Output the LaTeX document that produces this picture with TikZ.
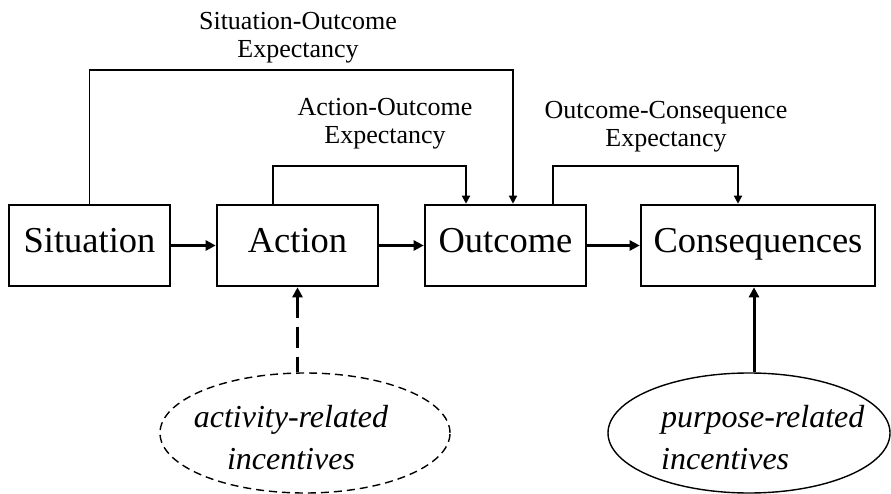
\documentclass[tikz,border=0pt]{standalone}
\usepackage{fontspec}
\setmainfont{Liberation Serif}
\usetikzlibrary{arrows.meta,shapes.geometric}
\begin{document}
\begin{tikzpicture}[x=1pt,y=-1pt,
  stage/.style={draw,line width=2.6pt,minimum height=81pt,inner sep=0pt,
    font=\fontsize{36.5}{40}\selectfont,text height=25.5pt,text depth=10.5pt},
  flow/.style={line width=3pt,-{Triangle[length=10pt,width=10pt]}},
  flowrev/.style={line width=3pt,{Triangle[length=10pt,width=10pt]}-},
  link/.style={line width=1.4pt,-{Triangle[length=8pt,width=8pt]}},
  lbl/.style={inner sep=0pt,align=center,font=\fontsize{26}{28}\selectfont},
  inc/.style={inner sep=0pt,font=\itshape\fontsize{32}{42}\selectfont},
  incring/.style={ellipse,draw,line width=1.4pt,inner sep=0pt}
]
\useasboundingbox (0,0) rectangle (891,494);

% the four stages
\node[stage,minimum width=161pt] (sit) at (89.5,245.5) {Situation};
\node[stage,minimum width=161pt] (act) at (297.5,245.5) {Action};
\node[stage,minimum width=161pt] (out) at (505.5,245.5) {Outcome};
\node[stage,minimum width=234pt] (con) at (758,245.5) {Consequences};

% main sequence
\draw[flow] (sit.east) -- (act.west);
\draw[flow] (act.east) -- (out.west);
\draw[flow] (out.east) -- (con.west);

% expectancy links
\coordinate (soTop) at (0,70);
\coordinate (aoTop) at (0,166);
\draw[link] (sit.north) |- ([xshift=7.5pt]out.north |- soTop) -- ([xshift=7.5pt]out.north);
\draw[link] ([xshift=-24.5pt]act.north) |- ([xshift=-39.5pt]out.north |- aoTop) -- ([xshift=-39.5pt]out.north);
\draw[link] ([xshift=47.5pt]out.north) |- ([xshift=-20pt]con.north |- aoTop) -- ([xshift=-20pt]con.north);

\node[lbl,anchor=north] (soLab) at (298,12) {Situation-Outcome\\Expectancy};
\node[lbl,anchor=north] (aoLab) at (385,98) {Action-Outcome\\Expectancy};
\node[lbl,anchor=north] (ocLab) at (666,101) {Outcome-Consequence\\Expectancy};

% incentives
\node[incring,dashed,dash pattern=on 8pt off 5pt,minimum width=290pt,minimum height=120pt] (actInc) at (305,433) {};
\node[incring,minimum width=282pt,minimum height=120pt] (purInc) at (749,433) {};
\node[inc,align=center,anchor=north] (actTxt) at (291,405) {activity-related\\incentives};
\node[inc,align=left,anchor=north west] (purTxt) at (661,405) {purpose-related\\incentives};

\draw[flowrev,dash pattern=on 21pt off 9pt] (act.south) -- (actInc.north -| act.south);
\coordinate (conIn) at ([xshift=-4pt]con.south);
\draw[flow] (purInc.north -| conIn) -- (conIn);
\end{tikzpicture}
\end{document}
